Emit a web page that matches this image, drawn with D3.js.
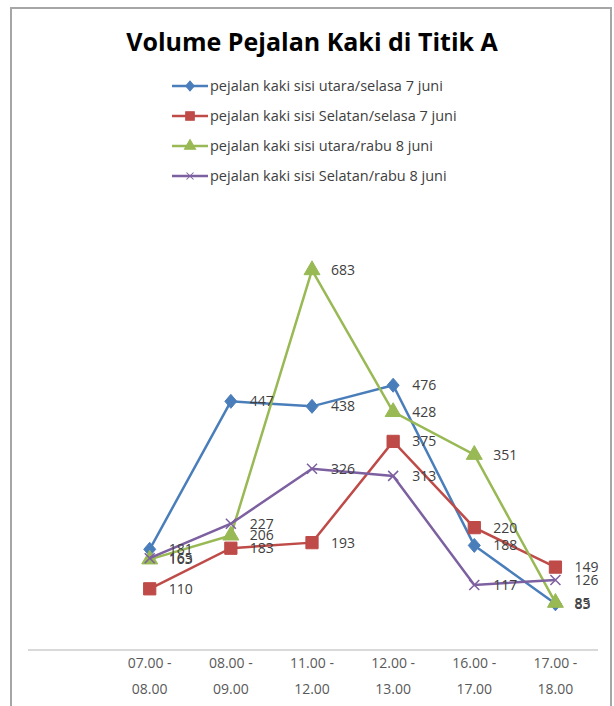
<!DOCTYPE html>
<html>
<head>
<meta charset="utf-8">
<script src="https://cdn.jsdelivr.net/npm/d3@7"></script>
<style>
body { margin: 0; background: #fff; }
text { font-family: "Open Sans", "Liberation Sans", sans-serif; }
</style>
</head>
<body>
<div class="chart"></div>
<script>
// Data ---------------------------------------------------------------------
const categories = ["", "07.00 - 08.00", "08.00 - 09.00", "11.00 - 12.00", "12.00 - 13.00", "16.00 - 17.00", "17.00 - 18.00"];
const seriesNames = [
  "pejalan kaki sisi utara/selasa 7 juni",
  "pejalan kaki sisi Selatan/selasa 7 juni",
  "pejalan kaki sisi utara/rabu 8 juni",
  "pejalan kaki sisi Selatan/rabu 8 juni"
];
const utaraSelasa = [181, 447, 438, 476, 188, 83];
const selatanSelasa = [110, 183, 193, 375, 220, 149];
const utaraRabu = [163, 206, 683, 428, 351, 85];
const selatanRabu = [165, 227, 326, 313, 117, 126];
const colors = ["#4a7ebb", "#be4b48", "#98b954", "#7d60a0"];
const symbols = ["diamond", "square", "triangle", "cross"];

const series = [utaraSelasa, selatanSelasa, utaraRabu, selatanRabu].map((vals, i) => ({
  name: seriesNames[i],
  color: colors[i],
  symbol: symbols[i],
  values: vals.map((v, j) => ({ cat: categories[j + 1], value: v }))
}));

// SVG ---------------------------------------------------------------------
const width = 614;
const height = 706;

const svg = d3.select(".chart")
  .append("svg")
  .attr("width", width)
  .attr("height", height);

// chart frame
svg.append("rect")
  .attr("x", 11).attr("y", 8)
  .attr("width", 600).attr("height", 720)
  .attr("fill", "#fff")
  .attr("stroke", "#a6a6a6")
  .attr("stroke-width", 2);

svg.append("text")
  .attr("x", 312)
  .attr("y", 51)
  .attr("text-anchor", "middle")
  .attr("font-size", 25)
  .attr("font-weight", "bold")
  .attr("fill", "#000")
  .text("Volume Pejalan Kaki di Titik A");

// Scales ---------------------------------------------------------------------
const xScale = d3.scaleBand()
  .domain(categories)
  .range([28, 596]);

const yScale = d3.scaleLinear()
  .domain([0, 800])
  .range([650, 205]);

const cx = d => xScale(d.cat) + xScale.bandwidth() / 2;

// X axis ---------------------------------------------------------------------
svg.append("line")
  .attr("x1", 28).attr("x2", 598)
  .attr("y1", yScale(0)).attr("y2", yScale(0))
  .attr("stroke", "#d9d9d9")
  .attr("stroke-width", 2);

const xLabels = svg.append("g")
  .selectAll("text")
  .data(categories.slice(1))
  .join("text")
  .attr("text-anchor", "middle")
  .attr("font-size", 14)
  .attr("fill", "#595959")
  .attr("x", d => xScale(d) + xScale.bandwidth() / 2);

xLabels.append("tspan")
  .attr("x", d => xScale(d) + xScale.bandwidth() / 2)
  .attr("y", 668)
  .text(d => d.split(" - ")[0] + " -");
xLabels.append("tspan")
  .attr("x", d => xScale(d) + xScale.bandwidth() / 2)
  .attr("y", 694)
  .text(d => d.split(" - ")[1]);

// Lines and markers ---------------------------------------------------------------------
const line = d3.line()
  .x(cx)
  .y(d => yScale(d.value));

const markerPath = (sym) => {
  if (sym === "diamond") return "M0,-7L6,0L0,7L-6,0Z";
  if (sym === "square") return d3.symbol(d3.symbolSquare, 150)();
  if (sym === "triangle") return d3.symbol(d3.symbolTriangle, 110)();
  return "M-5,-5L5,5M-5,5L5,-5";
};

series.forEach(s => {
  const g = svg.append("g");
  g.append("path")
    .datum(s.values)
    .attr("fill", "none")
    .attr("stroke", s.color)
    .attr("stroke-width", 2.5)
    .attr("d", line);

  g.selectAll("path.marker")
    .data(s.values)
    .join("path")
    .attr("class", "marker")
    .attr("transform", d => `translate(${cx(d)},${yScale(d.value)})`)
    .attr("d", markerPath(s.symbol))
    .attr("fill", s.symbol === "cross" ? "none" : s.color)
    .attr("stroke", s.color)
    .attr("stroke-width", s.symbol === "cross" ? 1.5 : 1);
});

// Data labels ---------------------------------------------------------------------
series.forEach(s => {
  svg.append("g")
    .selectAll("text")
    .data(s.values)
    .join("text")
    .attr("x", d => cx(d) + 19)
    .attr("y", d => yScale(d.value) + 5)
    .attr("font-size", 14)
    .attr("fill", "#404040")
    .text(d => d.value);
});

// Legend ---------------------------------------------------------------------
const legend = svg.append("g")
  .selectAll("g")
  .data(series)
  .join("g")
  .attr("transform", (d, i) => `translate(172,${86 + i * 30})`);

legend.append("line")
  .attr("x1", 0).attr("x2", 36)
  .attr("stroke", d => d.color)
  .attr("stroke-width", 2.5);

legend.append("path")
  .attr("transform", "translate(18,0) scale(0.7)")
  .attr("d", d => markerPath(d.symbol))
  .attr("fill", d => d.symbol === "cross" ? "none" : d.color)
  .attr("stroke", d => d.color)
  .attr("stroke-width", 1.5);

legend.append("text")
  .attr("x", 38)
  .attr("y", 5)
  .attr("font-size", 14.5)
  .attr("fill", "#404040")
  .text(d => d.name);
</script>
</body>
</html>
